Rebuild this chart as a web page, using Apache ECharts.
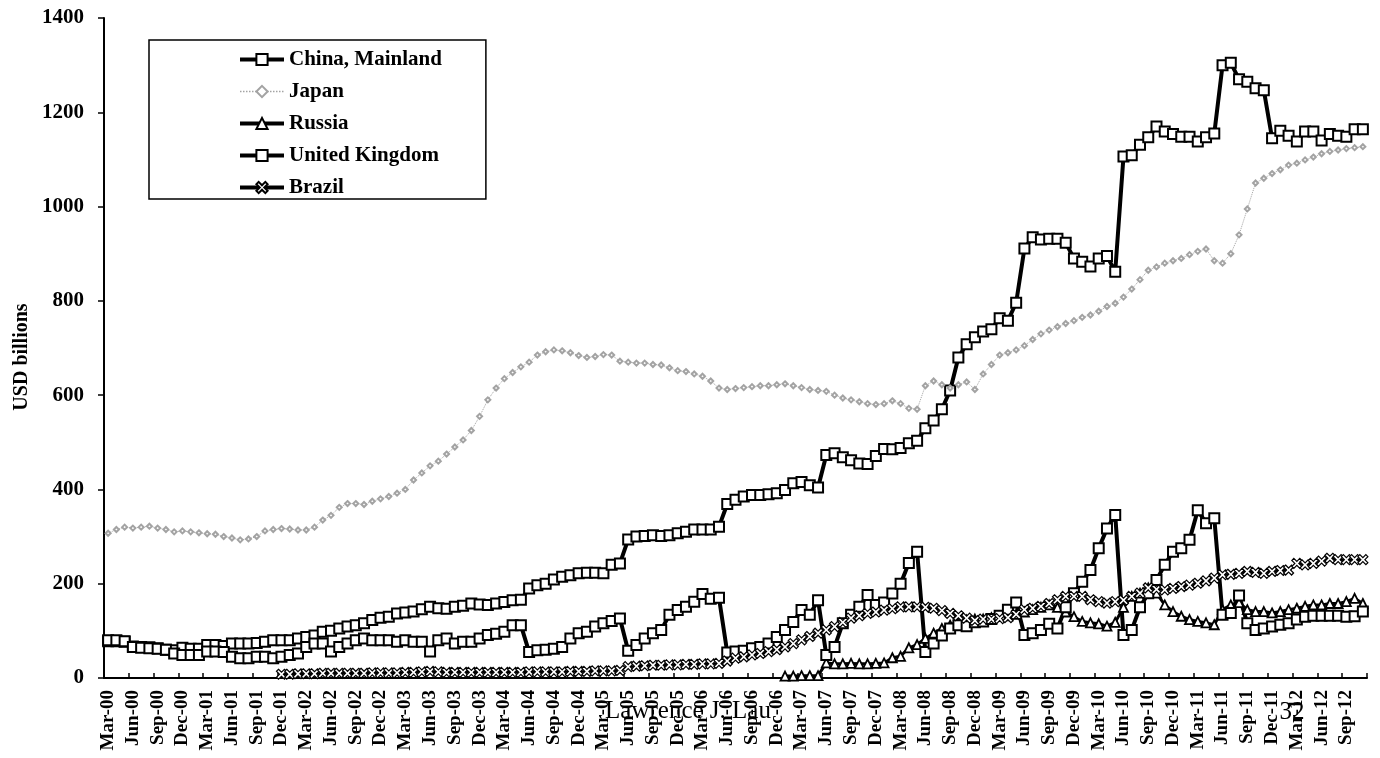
<!DOCTYPE html>
<html lang="en">
<head>
  <meta charset="UTF-8">
  <title>Foreign holdings of US Treasuries</title>
  <script src="https://cdn.jsdelivr.net/npm/echarts@6/dist/echarts.min.js"></script>
  <style>
    html, body { margin: 0; padding: 0; background: #fff; }
  </style>
</head>
<body>
<div id="chart" style="width: 1380px;height: 758px"></div>
<script>
  // month labels Mar-00 .. Nov-12
  var monthNames = ['Jan', 'Feb', 'Mar', 'Apr', 'May', 'Jun', 'Jul', 'Aug', 'Sep', 'Oct', 'Nov', 'Dec'];
  var years = ['00', '01', '02', '03', '04', '05', '06', '07', '08', '09', '10', '11', '12'];
  var yTicks = [0, 200, 400, 600, 800, 1000, 1200, 1400];

  var months = [];
  for (var y = 0; y < years.length; y++) {
    for (var m = 0; m < 12; m++) {
      if (y === 0 && m < 2) continue;
      if (y === years.length - 1 && m > 10) continue;
      months.push(monthNames[m] + '-' + years[y]);
    }
  }

  var china = [
    78, 78, 77, 67, 66, 65, 63, 60, 59, 64,
    62, 62, 70, 70, 68, 73, 73, 73, 74, 77, 80, 80,
    80, 84, 87, 90, 98, 100, 105, 109, 112, 116, 123, 128,
    130, 137, 139, 141, 146, 151, 148, 147, 151, 153, 158, 156,
    155, 158, 161, 165, 166, 190, 197, 200, 209, 215, 218, 222,
    223, 223, 222, 240, 243, 294, 300, 301, 303, 301, 303, 307,
    310, 315, 315, 315, 321, 369, 378, 385, 388, 388, 390, 392,
    399, 413, 416, 409, 404, 473, 477, 468, 462, 455, 454, 471,
    486, 485, 488, 498, 503, 530, 546, 570, 610, 680, 708, 723,
    735, 740, 763, 758, 796, 911, 935, 930, 932, 932, 923, 890,
    883, 873, 890, 895, 862, 1106, 1109, 1131, 1147, 1170, 1159, 1154,
    1148, 1148, 1138, 1147, 1155, 1300, 1305, 1270, 1265, 1251, 1247, 1145,
    1161, 1150, 1138, 1159, 1159, 1140, 1154, 1150, 1148, 1164, 1164
  ];

  var japan = [
    307, 315, 320, 318, 320, 322, 318, 315, 310, 312,
    310, 308, 306, 305, 300, 297, 293, 295, 300, 312, 315, 317,
    316, 314, 314, 320, 335, 345, 362, 370, 370, 368, 375, 380,
    385, 392, 400, 420, 435, 450, 460, 475, 490, 505, 525, 555,
    590, 615, 635, 648, 660, 670, 685, 692, 696, 694, 690, 684,
    680, 682, 686, 685, 672, 670, 668, 668, 665, 664, 658, 652,
    650, 645, 640, 630, 615, 612, 614, 616, 618, 620, 620, 622,
    624, 620, 616, 612, 610, 608, 600, 594, 590, 586, 582, 580,
    582, 588, 582, 572, 570, 620, 630, 622, 615, 622, 628, 612,
    645, 665, 685, 690, 696, 705, 718, 730, 738, 745, 752, 758,
    765, 770, 778, 788, 795, 808, 825, 845, 865, 872, 880, 885,
    890, 898, 905, 910, 885, 880, 900, 940, 995, 1050, 1060, 1070,
    1078, 1088, 1092, 1099, 1105, 1112, 1117, 1120, 1123, 1125, 1127
  ];

  var russia = [
    null, null, null, null, null, null, null, null, null, null,
    null, null, null, null, null, null, null, null, null, null, null, null,
    null, null, null, null, null, null, null, null, null, null, null, null,
    null, null, null, null, null, null, null, null, null, null, null, null,
    null, null, null, null, null, null, null, null, null, null, null, null,
    null, null, null, null, null, null, null, null, null, null, null, null,
    null, null, null, null, null, null, null, null, null, null, null, null,
    4, 4, 5, 5, 5, 32, 30, 30, 31, 30, 30, 31,
    32, 43, 46, 64, 71, 84, 95, 105, 112, 119, 123, 125,
    125, 128, 130, 132, 135, 140, 145, 150, 155, 150, 140, 130,
    120, 117, 115, 110, 118, 150, 173, 180, 191, 180, 155, 141,
    131, 124, 120, 117, 113, 145, 155, 160, 145, 141, 141, 138,
    141, 145, 148, 152, 155, 155, 158, 158, 162, 169, 158
  ];

  var uk = [
    80, 80, 78, 66, 64, 63, 62, 60, 52, 49,
    49, 49, 56, 56, 55, 45, 42, 42, 45, 45, 42, 45,
    49, 52, 66, 73, 73, 56, 66, 73, 80, 84, 80, 80,
    80, 77, 80, 77, 77, 56, 80, 84, 73, 77, 77, 84,
    91, 94, 98, 112, 112, 55, 59, 60, 62, 66, 84, 95,
    98, 109, 116, 121, 126, 58, 70, 84, 95, 102, 134, 144,
    151, 162, 178, 168, 170, 54, 56, 58, 63, 66, 73, 87,
    102, 119, 144, 134, 165, 49, 66, 116, 134, 151, 176, 155,
    160, 179, 200, 244, 268, 55, 73, 90, 105, 112, 110, 118,
    120, 125, 132, 145, 160, 91, 95, 102, 115, 105, 150, 180,
    204, 229, 275, 317, 346, 91, 102, 150, 180, 208, 240, 268,
    275, 293, 356, 328, 339, 134, 138, 175, 116, 102, 105, 109,
    113, 116, 124, 130, 132, 132, 132, 132, 130, 131, 141
  ];

  var brazil = [
    null, null, null, null, null, null, null, null, null, null,
    null, null, null, null, null, null, null, null, null, null, null, 8,
    8, 9, 9, 9, 10, 10, 10, 10, 10, 10, 11, 11,
    11, 11, 12, 12, 13, 14, 13, 12, 12, 12, 12, 12,
    12, 12, 12, 12, 12, 13, 13, 13, 13, 13, 14, 14,
    14, 15, 15, 15, 16, 24, 25, 26, 27, 27, 28, 28,
    29, 29, 30, 30, 31, 36, 42, 45, 49, 52, 56, 60,
    66, 73, 81, 88, 95, 102, 109, 118, 127, 132, 137, 140,
    144, 147, 151, 151, 151, 150, 148, 143, 137, 132, 127, 122,
    125, 125, 126, 128, 135, 145, 148, 152, 158, 166, 173, 173,
    173, 166, 162, 159, 162, 165, 173, 180, 191, 188, 187, 190,
    194, 197, 201, 206, 212, 219, 220, 222, 226, 224, 222, 226,
    228, 229, 243, 240, 243, 248, 254, 251, 251, 251, 251
  ];

  var chart = echarts.init(document.getElementById('chart'));

  var serifBold = {fontFamily: 'Liberation Serif', fontWeight: 'bold', color: '#000'};
  var crossPath = 'path://M2,0 L5,3 L8,0 L10,2 L7,5 L10,8 L8,10 L5,7 L2,10 L0,8 L3,5 L0,2 Z';
  var japanGrey = '#a3a3a3';

  option = {
    animation: false,
    backgroundColor: '#fff',
    grid: {left: 104, right: 13, top: 18, bottom: 80, containLabel: false},
    legend: {
      orient: 'vertical',
      left: 149,
      top: 40,
      padding: [9, 44, 1, 89],
      itemWidth: 44,
      itemHeight: 14,
      itemGap: 11,
      borderColor: '#000',
      borderWidth: 1.5,
      backgroundColor: '#fff',
      textStyle: {fontFamily: 'Liberation Serif', fontWeight: 'bold', fontSize: 21, color: '#000'},
      data: [
        {name: 'China, Mainland', lineStyle: {width: 4}},
        {name: 'Japan', lineStyle: {width: 1.5}},
        {name: 'Russia', lineStyle: {width: 4}},
        {name: 'United Kingdom', lineStyle: {width: 4}},
        {name: 'Brazil', lineStyle: {width: 4}}
      ]
    },
    xAxis: {
      type: 'category',
      data: months,
      boundaryGap: true,
      axisLine: {lineStyle: {color: '#000', width: 2}},
      axisTick: {show: true, interval: 2, inside: true, length: 5, lineStyle: {color: '#000', width: 1.5}},
      axisLabel: Object.assign({interval: 2, rotate: 90, fontSize: 19, margin: 12}, serifBold)
    },
    yAxis: {
      type: 'value',
      min: yTicks[0],
      max: yTicks[yTicks.length - 1],
      interval: 200,
      splitLine: {show: false},
      axisLine: {show: true, lineStyle: {color: '#000', width: 2}},
      axisTick: {show: true, length: 6, lineStyle: {color: '#000', width: 1.5}},
      axisLabel: Object.assign({fontSize: 21, margin: 20, formatter: function (v) { return String(v); }}, serifBold)
    },
    graphic: [
      {type: 'text', x: 22, y: 357, rotation: Math.PI / 2,
        style: {text: 'USD billions', font: 'bold 20px "Liberation Serif"', fill: '#000', textAlign: 'center', textVerticalAlign: 'middle'}},
      {type: 'text', x: 688, y: 711, z: 100,
        style: {text: 'Lawrence J. Lau', font: '25px "Liberation Serif"', fill: '#000', textAlign: 'center', textVerticalAlign: 'middle'}},
      {type: 'text', x: 1292, y: 712, z: 100,
        style: {text: '32', font: '25px "Liberation Serif"', fill: '#000', textAlign: 'center', textVerticalAlign: 'middle'}}
    ],
    series: [
      {
        name: 'China, Mainland', type: 'line', data: china,
        symbol: 'rect', symbolSize: 10, showAllSymbol: true,
        itemStyle: {color: '#fff', borderColor: '#000', borderWidth: 2},
        lineStyle: {color: '#000', width: 4}
      },
      {
        name: 'Japan', type: 'line', data: japan,
        symbol: 'emptyDiamond', symbolSize: 5, showAllSymbol: true,
        itemStyle: {color: japanGrey, borderColor: japanGrey, borderWidth: 1},
        lineStyle: {color: japanGrey, width: 1, type: 'dotted'}
      },
      {
        name: 'Russia', type: 'line', data: russia,
        symbol: 'triangle', symbolSize: 9, showAllSymbol: true,
        itemStyle: {color: '#fff', borderColor: '#000', borderWidth: 1.8},
        lineStyle: {color: '#000', width: 3}
      },
      {
        name: 'United Kingdom', type: 'line', data: uk,
        symbol: 'rect', symbolSize: 10, showAllSymbol: true,
        itemStyle: {color: '#fff', borderColor: '#000', borderWidth: 2},
        lineStyle: {color: '#000', width: 4}
      },
      {
        name: 'Brazil', type: 'line', data: brazil,
        symbol: crossPath, symbolSize: 10, showAllSymbol: true,
        itemStyle: {color: '#fff', borderColor: '#000', borderWidth: 1.2},
        lineStyle: {color: '#000', width: 2.5}
      }
    ]
  };

  chart.setOption(option);
</script>
</body>
</html>
